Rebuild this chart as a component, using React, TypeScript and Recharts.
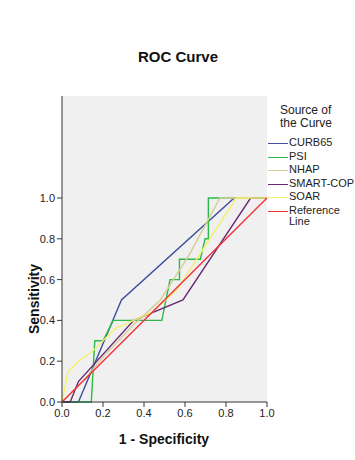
import { CartesianGrid, Line, LineChart, XAxis, YAxis } from "recharts"

type Pt = { x: number; y: number }

const xTicks = [0, 0.2, 0.4, 0.6, 0.8, 1.0]
const yTicks = [0, 0.2, 0.4, 0.6, 0.8, 1.0]

const curb65: Pt[] = [
  { x: 0, y: 0 }, { x: 0.08, y: 0 }, { x: 0.29, y: 0.5 }, { x: 0.84, y: 1 }, { x: 1, y: 1 },
]
const psi: Pt[] = [
  { x: 0, y: 0 }, { x: 0.143, y: 0 }, { x: 0.16, y: 0.3 }, { x: 0.2, y: 0.3 },
  { x: 0.25, y: 0.4 }, { x: 0.487, y: 0.4 }, { x: 0.527, y: 0.6 }, { x: 0.573, y: 0.6 },
  { x: 0.573, y: 0.7 }, { x: 0.675, y: 0.7 }, { x: 0.698, y: 0.8 }, { x: 0.714, y: 0.8 },
  { x: 0.714, y: 1 }, { x: 1, y: 1 },
]
const nhap: Pt[] = [
  { x: 0, y: 0 }, { x: 0.1, y: 0.1 }, { x: 0.2, y: 0.22 }, { x: 0.35, y: 0.38 },
  { x: 0.48, y: 0.5 }, { x: 0.62, y: 0.72 }, { x: 0.77, y: 1 }, { x: 1, y: 1 },
]
const smartCop: Pt[] = [
  { x: 0, y: 0 }, { x: 0.04, y: 0 }, { x: 0.08, y: 0.1 }, { x: 0.35, y: 0.4 },
  { x: 0.59, y: 0.5 }, { x: 0.92, y: 1 }, { x: 1, y: 1 },
]
const soar: Pt[] = [
  { x: 0, y: 0 }, { x: 0.03, y: 0.15 }, { x: 0.08, y: 0.2 }, { x: 0.15, y: 0.25 },
  { x: 0.26, y: 0.36 }, { x: 0.44, y: 0.44 }, { x: 0.56, y: 0.55 }, { x: 0.85, y: 1 }, { x: 1, y: 1 },
]
const reference: Pt[] = [{ x: 0, y: 0 }, { x: 1, y: 1 }]

const series = [
  { name: "CURB65", data: curb65, color: "#3e4fa0" },
  { name: "PSI", data: psi, color: "#2eb848" },
  { name: "NHAP", data: nhap, color: "#d3ce97" },
  { name: "SMART-COP", data: smartCop, color: "#6b2a78" },
  { name: "SOAR", data: soar, color: "#f5f26a" },
  { name: "Reference\nLine", data: reference, color: "#ef3338" },
]

const font = "'Liberation Sans', Arial, sans-serif"
const tickStyle = { fontSize: 11, fill: "#222", fontFamily: font }

export default function App() {
  return (
    <div style={{ position: "absolute", left: 0, top: 0, width: 355, height: 460, background: "#fff", fontFamily: font }}>
      <LineChart width={355} height={460} margin={{ top: 96, right: 88, bottom: 38, left: 32 }}>
        <CartesianGrid fill="#f0f0f0" horizontal={false} vertical={false} />
        <XAxis
          xAxisId="b"
          type="number"
          dataKey="x"
          domain={[0, 1]}
          ticks={xTicks}
          tickFormatter={(v: number) => v.toFixed(1)}
          tick={tickStyle}
          stroke="#333"
          tickSize={5}
          height={20}
        />
        <XAxis xAxisId="t" orientation="top" type="number" domain={[0, 1]} tick={false} tickLine={false} stroke="#333" height={0} />
        <YAxis
          yAxisId="l"
          type="number"
          domain={[0, 1.5]}
          ticks={yTicks}
          tickFormatter={(v: number) => v.toFixed(1)}
          tick={tickStyle}
          stroke="#333"
          tickSize={5}
          width={30}
        />
        <YAxis yAxisId="r" orientation="right" type="number" domain={[0, 1.5]} tick={false} tickLine={false} stroke="#333" width={0} />
        {series.map((s) => (
          <Line
            key={s.name}
            xAxisId="b"
            yAxisId="l"
            data={s.data}
            dataKey="y"
            type="linear"
            stroke={s.color}
            strokeWidth={1.4}
            dot={false}
            isAnimationActive={false}
          />
        ))}
      </LineChart>
      <div style={{ position: "absolute", left: 78, width: 200, top: 48, textAlign: "center", fontSize: 15, fontWeight: "bold", color: "#111" }}>
        ROC Curve
      </div>
      <div style={{ position: "absolute", left: 64, width: 200, top: 431, textAlign: "center", fontSize: 14, fontWeight: "bold", color: "#111" }}>
        1 - Specificity
      </div>
      <div
        style={{
          position: "absolute", left: 34, top: 299, fontSize: 14, fontWeight: "bold", color: "#111",
          transform: "translate(-50%, -50%) rotate(-90deg)", whiteSpace: "nowrap",
        }}
      >
        Sensitivity
      </div>
      <div style={{ position: "absolute", left: 280, top: 104, fontSize: 12, lineHeight: "13px", color: "#222" }}>
        Source of<br />the Curve
      </div>
      {series.map((s, i) => (
        <div key={s.name} style={{ position: "absolute", left: 268, top: 137 + Math.round(i * 13.5), display: "flex", alignItems: "flex-start" }}>
          <div style={{ width: 20, height: 0, borderTop: `1px solid ${s.color}`, marginTop: 6 }} />
          <div style={{ fontSize: 11, lineHeight: "11px", color: "#222", whiteSpace: "pre", marginLeft: 1 }}>{s.name}</div>
        </div>
      ))}
    </div>
  )
}
